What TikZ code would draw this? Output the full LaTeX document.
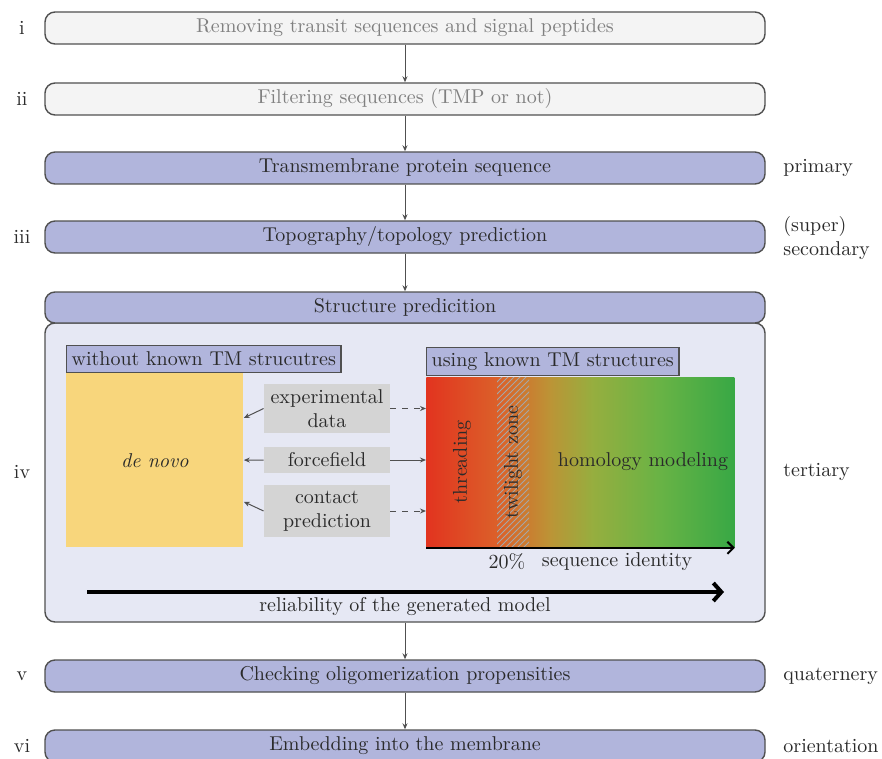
\documentclass[tikz,border=0pt]{standalone}
\usetikzlibrary{arrows.meta,patterns}
\definecolor{lav}{HTML}{B1B5DC}
\definecolor{lavlight}{HTML}{E6E8F4}
\definecolor{grayfill}{HTML}{F4F4F4}
\definecolor{bord}{HTML}{505050}
\definecolor{yel}{HTML}{F8D67C}
\definecolor{gbox}{HTML}{D4D4D4}
\definecolor{redA}{HTML}{E2341F}
\definecolor{orgA}{HTML}{DB622A}
\definecolor{oliA}{HTML}{BC9436}
\definecolor{ylgA}{HTML}{96AE3F}
\definecolor{lgA}{HTML}{68B345}
\definecolor{grnA}{HTML}{38A845}
\definecolor{txt}{HTML}{2A2A2A}
\pgfdeclarehorizontalshading{seqid}{100bp}{color(0bp)=(redA); color(25bp)=(redA); color(37bp)=(orgA); color(45bp)=(oliA); color(52bp)=(ylgA); color(63bp)=(lgA); color(75bp)=(grnA); color(100bp)=(grnA)}
\begin{document}
\begin{tikzpicture}[x=0.5pt,y=-0.5pt,
  stepbox/.style={draw=bord, line width=0.7pt, rounded corners=5pt, minimum width=360pt, minimum height=16pt, inner sep=0pt, fill=lav, text=txt},
  greybox/.style={stepbox, fill=grayfill, text=gray},
  leftlab/.style={text=txt},
  rightlab/.style={anchor=west, align=left, text=txt, inner sep=0pt},
  conn/.style={draw=bord, line width=0.5pt, -{Stealth[length=3pt,width=2.5pt]}},
  tagbox/.style={draw=bord, line width=0.7pt, fill=lav, text=txt, inner sep=2.5pt, anchor=south west, minimum height=13.5pt},
  gbx/.style={fill=gbox, text=txt, minimum width=63pt, inner sep=0pt, align=center}
]
\clip (0,0) rectangle (882,759);
\fill[white] (0,0) rectangle (882,759);

% main steps
\node[greybox] (s1) at (405,28) {Removing transit sequences and signal peptides};
\node[greybox] (s2) at (405,99) {Filtering sequences (TMP or not)};
\node[stepbox] (s3) at (405,168) {Transmembrane protein sequence};
\node[stepbox] (s4) at (405,237) {Topography/topology prediction};
\node[draw=bord, line width=0.7pt, rounded corners=5pt, fill=lavlight, minimum width=360pt, minimum height=149.5pt, inner sep=0pt] (big) at (405,472.5) {};
\node[stepbox, minimum height=15.5pt] (s5) at (405,307.5) {Structure predicition};
\node[stepbox] (s6) at (405,676) {Checking oligomerization propensities};
\node[stepbox] (s7) at (405,746) {Embedding into the membrane};

% left labels
\node[leftlab] (li) at (22,28) {i};
\node[leftlab] (lii) at (22,99) {ii};
\node[leftlab] (liii) at (22,237) {iii};
\node[leftlab] (liv) at (22,472) {iv};
\node[leftlab] (lv) at (22,676) {v};
\node[leftlab] (lvi) at (22,746) {vi};

% right labels
\node[rightlab] (rp) at (783,168) {primary};
\node[rightlab] (rs) at (783,238) {(super)\\secondary};
\node[rightlab] (rt) at (783,472) {tertiary};
\node[rightlab] (rq) at (783,676) {quaternery};
\node[rightlab] (ro) at (783,746) {orientation};

% connectors
\draw[conn] (s1) -- (s2);
\draw[conn] (s2) -- (s3);
\draw[conn] (s3) -- (s4);
\draw[conn] (s4) -- (s5);
\draw[conn] (big) -- (s6);
\draw[conn] (s6) -- (s7);

% left part
\node[tagbox] (wo) at (66,373) {without known TM strucutres};
\node[fill=yel, minimum width=88.5pt, minimum height=87pt, anchor=north west, inner sep=0pt, text=txt] (dn) at (66,373) {\textit{de novo}};
\node[gbx, minimum height=24.5pt] (exp) at (327,408.5) {experimental\\data};
\node[gbx, minimum height=13pt] (ff) at (327,460) {forcefield};
\node[gbx, minimum height=26pt] (cp) at (327,511) {contact\\prediction};

% right part
\node[tagbox] (us) at (426,376) {using known TM structures};
\node[minimum width=154pt, minimum height=85pt, anchor=north west, inner sep=0pt, shading=seqid] (gr) at (426,377) {};
\fill[pattern=north east lines, pattern color=gray!70] (497,377) rectangle (529,547);
\node[rotate=90, text=txt] (thr) at (462,462) {threading};
\node[rotate=90, text=txt] (tw) at (513,462) {twilight zone};
\node[text=txt] (hm) at (643,462) {homology modeling};
\draw[line width=1pt, -{Straight Barb[length=3pt,width=6pt]}] (gr.south west) -- (gr.south east);
\node[text=txt] (pc) at (507,562) {20\%};
\node[text=txt] (si) at (617,562) {sequence identity};

% arrows from data
\draw[conn] (exp.west) -- (dn);
\draw[conn] (ff.west) -- (dn);
\draw[conn] (cp.west) -- (dn);
\draw[conn, dashed] (exp.east) -- (exp.east -| gr.west);
\draw[conn] (ff.east) -- (ff.east -| gr.west);
\draw[conn, dashed] (cp.east) -- (cp.east -| gr.west);

% reliability
\coordinate (ra) at (87,592);
\coordinate (rb) at (724,592);
\draw[line width=2pt, -{Straight Barb[length=4pt,width=9pt]}] (ra) -- (rb);
\node[text=txt] (rel) at (405,607) {reliability of the generated model};
\end{tikzpicture}
\end{document}
